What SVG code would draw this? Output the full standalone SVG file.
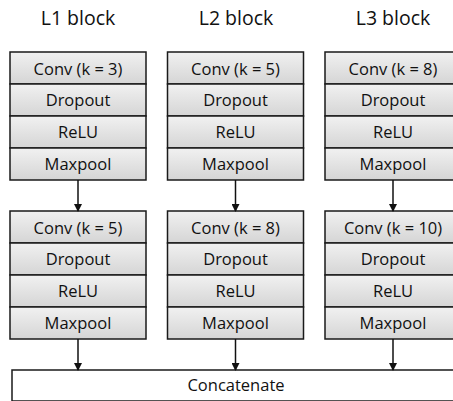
<svg xmlns="http://www.w3.org/2000/svg" width="453" height="401" viewBox="0 0 453 401">
  <style>
    .title { font-family: "Open Sans", "Liberation Sans", sans-serif; font-size: 19.5px; fill: #111; text-anchor: middle; }
    .lbl { font-family: "Open Sans", "Liberation Sans", sans-serif; font-size: 16.5px; fill: #111; text-anchor: middle; }
    .cell { fill: url(#cellGrad); stroke: #1a1a1a; stroke-width: 1.5; }
    .wire { stroke: #111; stroke-width: 1.5; fill: none; marker-end: url(#arrow); }
  </style>
  <defs>
    <linearGradient id="cellGrad" x1="0" y1="0" x2="0" y2="1">
      <stop offset="0" stop-color="#f1f1f1"/>
      <stop offset="1" stop-color="#d5d5d5"/>
    </linearGradient>
    <marker id="arrow" markerWidth="8" markerHeight="8" refX="7" refY="4" orient="auto" markerUnits="userSpaceOnUse">
      <path d="M0,0 L8,4 L0,8 Z" fill="#111"/>
    </marker>
    <!-- shared four-row layer stack; the conv label is added per instance -->
    <g id="stack">
      <rect class="cell" x="0" y="0" width="136" height="32"/>
      <rect class="cell" x="0" y="32" width="136" height="32"/>
      <rect class="cell" x="0" y="64" width="136" height="32"/>
      <rect class="cell" x="0" y="96" width="136" height="32"/>
      <text class="lbl" x="68" y="54">Dropout</text>
      <text class="lbl" x="68" y="86">ReLU</text>
      <text class="lbl" x="68" y="118">Maxpool</text>
    </g>
  </defs>

  <!-- column headings -->
  <text class="title" x="78" y="25">L1 block</text>
  <text class="title" x="236" y="25">L2 block</text>
  <text class="title" x="393" y="25">L3 block</text>

  <!-- first layer of each block -->
  <g id="l1-a" transform="translate(10,52)">
    <use href="#stack"/>
    <text class="lbl" x="68" y="23">Conv (k = 3)</text>
  </g>
  <g id="l2-a" transform="translate(167.5,52)">
    <use href="#stack"/>
    <text class="lbl" x="68" y="23">Conv (k = 5)</text>
  </g>
  <g id="l3-a" transform="translate(325,52)">
    <use href="#stack"/>
    <text class="lbl" x="68" y="23">Conv (k = 8)</text>
  </g>

  <!-- second layer of each block -->
  <g id="l1-b" transform="translate(10,211)">
    <use href="#stack"/>
    <text class="lbl" x="68" y="23">Conv (k = 5)</text>
  </g>
  <g id="l2-b" transform="translate(167.5,211)">
    <use href="#stack"/>
    <text class="lbl" x="68" y="23">Conv (k = 8)</text>
  </g>
  <g id="l3-b" transform="translate(325,211)">
    <use href="#stack"/>
    <text class="lbl" x="68" y="23">Conv (k = 10)</text>
  </g>

  <!-- merge -->
  <g id="concat">
    <rect x="12" y="370" width="450" height="31" fill="#fff" stroke="#1a1a1a" stroke-width="1.5"/>
    <text class="lbl" x="236" y="391">Concatenate</text>
  </g>

  <g id="connectors">
    <line class="wire" x1="78" y1="180" x2="78" y2="211"/>
    <line class="wire" x1="235.5" y1="180" x2="235.5" y2="211"/>
    <line class="wire" x1="393" y1="180" x2="393" y2="211"/>
    <line class="wire" x1="78" y1="339" x2="78" y2="370"/>
    <line class="wire" x1="235.5" y1="339" x2="235.5" y2="370"/>
    <line class="wire" x1="393" y1="339" x2="393" y2="370"/>
  </g>
</svg>
